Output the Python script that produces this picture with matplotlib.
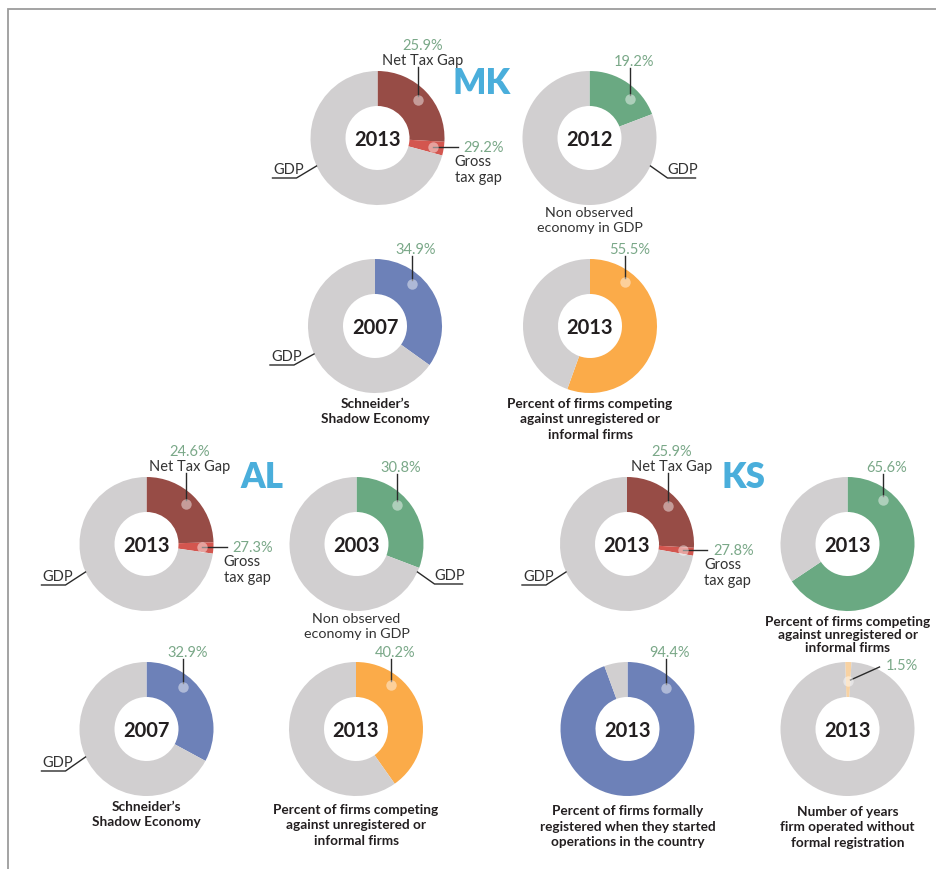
import matplotlib.pyplot as plt
import numpy as np

plt.rcParams['font.family'] = ['Lato', 'DejaVu Sans']

# tax gap as % of GDP, 2013
tax_countries = ['MK', 'AL', 'KS']
net_tax_gap = [25.9, 24.6, 25.9]
gross_tax_gap = [29.2, 27.3, 27.8]

# non observed economy in GDP
noe_countries = ['MK', 'AL']
noe_years = ['2012', '2003']
noe_values = [19.2, 30.8]

# Schneider's shadow economy, 2007
shadow_countries = ['MK', 'AL']
shadow_values = [34.9, 32.9]

# percent of firms competing against unregistered or informal firms, 2013
compete_countries = ['MK', 'AL', 'KS']
compete_values = [55.5, 40.2, 65.6]

# KS only, 2013
registered_value = 94.4
years_unregistered = 1.5

# layout (pixel coords of donut centres)
R = 67
HOLE = 32
centres = {
    ('tax', 'MK'): (377.5, 139), ('noe', 'MK'): (589.5, 139),
    ('shadow', 'MK'): (375, 327), ('compete', 'MK'): (590, 327),
    ('tax', 'AL'): (146.5, 545), ('noe', 'AL'): (356.5, 545),
    ('shadow', 'AL'): (146.5, 730), ('compete', 'AL'): (356, 730),
    ('tax', 'KS'): (627, 545), ('compete', 'KS'): (847.5, 545),
    ('registered', 'KS'): (627.5, 730), ('years', 'KS'): (847.5, 730),
}
title_pos = {'MK': (482, 84), 'AL': (262, 478), 'KS': (743, 478)}

GREY = '#d1cfd0'
NET = '#974c46'
GROSS = '#d3564f'
GREEN = '#6aa982'
BLUE = '#6d81b8'
ORANGE = '#fbab49'
PALE = '#f8d2a2'
PCT = '#7aa888'
TITLE = '#4aaedb'
DARK = '#231f20'
LINE = '#2a2a2a'

fig = plt.figure(figsize=(9.36, 8.7), dpi=100)
ax = fig.add_axes([0, 0, 1, 1])


def point(cx, cy, ang, r):
    a = np.radians(ang)
    return cx + r * np.sin(a), cy - r * np.cos(a)


def donut(cx, cy, values, colors, year, start=-90):
    ax.pie(values, colors=colors, startangle=start, counterclock=True,
           radius=R, center=(cx, cy), frame=True,
           wedgeprops=dict(width=R - HOLE, linewidth=0))
    ax.text(cx, cy + 1, year, ha='center', va='center', fontsize=14.5,
            fontweight='bold', color=DARK)


def dot(x, y):
    ax.plot([x], [y], 'o', ms=7.5, mew=0, color='white', alpha=0.45, zorder=5)


def top_callout(cx, cy, share, ang=43, r=56):
    x, y = point(cx, cy, ang, r)
    dot(x, y)
    ty = cy - 77
    ax.text(x + 4, ty, f'{share}%', ha='center', va='center', fontsize=10.5, color=PCT)
    ax.plot([x, x], [ty + 7, y - 4], color=LINE, lw=1)


def gdp_left(cx, cy, dy=40):
    ax.plot([cx - 105, cx - 81, cx - 61], [cy + dy, cy + dy, cy + 28], color=LINE, lw=1)
    ax.text(cx - 104, cy + dy - 2, 'GDP', ha='left', va='bottom', fontsize=10.5, color='#333333')


def gdp_right(cx, cy):
    ax.plot([cx + 61, cx + 78, cx + 106], [cy + 28, cy + 40, cy + 40], color=LINE, lw=1)
    ax.text(cx + 93, cy + 38, 'GDP', ha='center', va='bottom', fontsize=10.5, color='#333333')


def caption(cx, cy, lines, bold=True, step=15.5, first=76):
    for i, s in enumerate(lines):
        ax.text(cx, cy + first + i * step, s, ha='center', va='center',
                fontsize=10.3 if not bold else 9.8,
                fontweight='bold' if bold else 'normal',
                color=DARK if bold else '#333333')


# tax gap donuts
for c, net, gross in zip(tax_countries, net_tax_gap, gross_tax_gap):
    cx, cy = centres[('tax', c)]
    donut(cx, cy, [net, gross - net, 100 - gross], [NET, GROSS, GREY], '2013')
    # net tax gap callout
    x, y = point(cx, cy, net * 3.6 / 2, 56)
    dot(x, y)
    ax.text(x + 4, cy - 93, f'{net}%', ha='center', va='center', fontsize=10.5, color=PCT)
    ax.text(x + 4, cy - 78, 'Net Tax Gap', ha='center', va='center', fontsize=10.5, color='#333333')
    ax.plot([x, x], [cy - 71, y - 4], color=LINE, lw=1)
    # gross tax gap callout
    x, y = point(cx, cy, (net + gross) * 3.6 / 2, 56)
    dot(x, y)
    ax.plot([x, cx + 80], [y, y], color=LINE, lw=1)
    ax.text(cx + 86, y, f'{gross}%', ha='left', va='center', fontsize=10.5, color=PCT)
    ax.text(cx + 77, y + 14, 'Gross', ha='left', va='center', fontsize=10.5, color='#333333')
    ax.text(cx + 77, y + 30, 'tax gap', ha='left', va='center', fontsize=10.5, color='#333333')
    gdp_left(cx, cy, 40 if c == 'MK' else 41)

# non observed economy
for c, yr, v in zip(noe_countries, noe_years, noe_values):
    cx, cy = centres[('noe', c)]
    donut(cx, cy, [v, 100 - v], [GREEN, GREY], yr)
    top_callout(cx, cy, v, ang=46)
    gdp_right(cx, cy)
    caption(cx, cy, ['Non observed', 'economy in GDP'], bold=False, first=74)

# Schneider's shadow economy
for c, v in zip(shadow_countries, shadow_values):
    cx, cy = centres[('shadow', c)]
    donut(cx, cy, [v, 100 - v], [BLUE, GREY], '2007')
    top_callout(cx, cy, v, ang=41)
    gdp_left(cx, cy, 39 if c == 'MK' else 42)
    caption(cx, cy, ['Schneider\u2019s', 'Shadow Economy'], first=77)

# firms competing against informal firms
for c, v in zip(compete_countries, compete_values):
    cx, cy = centres[('compete', c)]
    donut(cx, cy, [v, 100 - v], [GREEN if c == 'KS' else ORANGE, GREY], '2013')
    top_callout(cx, cy, v, ang=39)
    lines = ['Percent of firms competing', 'against unregistered or', 'informal firms']
    if c == 'KS':
        caption(cx, cy, lines, step=12.6, first=77.5)
    else:
        caption(cx, cy, lines, first=77 if c == 'MK' else 80)

# KS: registered at start
cx, cy = centres[('registered', 'KS')]
donut(cx, cy, [registered_value, 100 - registered_value], [BLUE, GREY], '2013')
top_callout(cx, cy, registered_value, ang=43)
caption(cx, cy, ['Percent of firms formally', 'registered when they started',
                 'operations in the country'], first=81.5)

# KS: years without registration
cx, cy = centres[('years', 'KS')]
donut(cx, cy, [years_unregistered, 100 - years_unregistered], [PALE, GREY], '2013', start=-92)
x, y = point(cx, cy, 0, 48)
dot(x, y)
ax.plot([x + 3, cx + 32], [y - 1, cy - 62], color=LINE, lw=1)
ax.text(cx + 38, cy - 64, f'{years_unregistered}%', ha='left', va='center', fontsize=10.5, color=PCT)
caption(cx, cy, ['Number of years', 'firm operated without', 'formal registration'], first=82)

# country titles
for c, (tx, ty) in title_pos.items():
    ax.text(tx, ty, c, ha='center', va='center', fontsize=25, fontweight='heavy', color=TITLE)

# frame
ax.plot([8, 8, 936], [870, 10, 10], color='#9c9c9c', lw=1.3, solid_joinstyle='miter')

ax.set_xlim(0, 936)
ax.set_ylim(870, 0)
ax.set_aspect('equal')
ax.axis('off')

fig.savefig('out.png', dpi=100, facecolor='white')
